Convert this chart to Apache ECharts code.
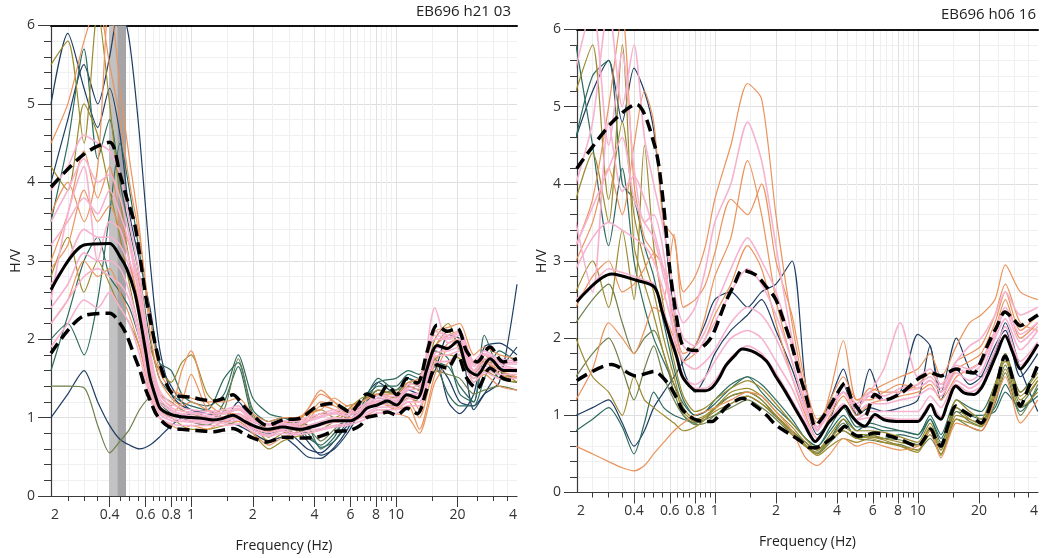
<!DOCTYPE html>
<html><head><meta charset="utf-8">
<script src="https://cdn.jsdelivr.net/npm/echarts@6/dist/echarts.min.js"></script>
<style>html,body{margin:0;padding:0;background:#fff}#c{width:1041px;height:558px}</style>
</head><body><div id="c"></div><script>
// ---------- axis ticks / labels ----------
const freqTicksMajor = [0.2, 0.4, 0.6, 0.8, 1, 2, 4, 6, 8, 10, 20, 40];
const majorTickText = ['0.2', '0.4', '0.6', '0.8', '1', '2', '4', '6', '8', '10', '20', '40'];
const freqTicksMinor = [0.25, 0.3, 0.35, 0.45, 0.5, 0.55, 0.65, 0.7, 0.75, 0.85, 0.9, 0.95, 1.5, 2.5, 3, 3.5, 4.5, 5, 5.5, 6.5, 7, 7.5, 8.5, 9, 9.5, 15, 25, 30, 35];
const edgeLabels = ['2', '4'];        // clipped "0.2" and "40"
const rangeL = [0.207, 39.0];
const rangeR = [0.2095, 39.1];
const titles = ['EB696 h21 03', 'EB696 h06 16'];
const f0BandL = [0.3975, 0.436, 0.481];

// ---------- left panel: average and +/- std curves ----------
const freqL = [0.207, 0.3, 0.4, 0.45, 0.485, 0.53, 0.563, 0.6, 0.631, 0.67, 0.705, 0.76, 0.82, 0.9, 1.0, 1.13, 1.28, 1.43, 1.6, 1.8, 2.0, 2.35, 2.8, 3.4, 4.1, 4.95, 6.0, 6.7, 7.2, 8.1, 9.1, 10.1, 11.3, 12.7, 14.2, 15.9, 17.8, 19.9, 22.2, 24.9, 28.8, 33.4, 39];
const meanL = [2.63, 3.2, 3.22, 3.05, 2.9, 2.6, 2.26, 1.85, 1.5, 1.27, 1.12, 1.06, 1.03, 1.01, 1.0, 0.99, 0.97, 0.99, 1.03, 0.96, 0.9, 0.85, 0.88, 0.85, 0.9, 0.96, 0.96, 1.03, 1.12, 1.16, 1.21, 1.16, 1.29, 1.25, 1.63, 1.92, 1.88, 1.97, 1.63, 1.54, 1.75, 1.6, 1.6];
const upperL = [3.94, 4.36, 4.51, 4.1, 3.8, 3.47, 3.05, 2.55, 2.25, 1.92, 1.68, 1.42, 1.29, 1.27, 1.26, 1.23, 1.21, 1.24, 1.29, 1.15, 1.03, 0.9, 0.97, 0.99, 1.14, 1.18, 1.07, 1.21, 1.3, 1.25, 1.41, 1.29, 1.5, 1.44, 1.84, 2.18, 2.1, 2.14, 1.84, 1.71, 1.9, 1.71, 1.75];
const lowerL = [1.82, 2.3, 2.33, 2.2, 2.05, 1.78, 1.6, 1.36, 1.22, 1.06, 0.98, 0.9, 0.86, 0.85, 0.84, 0.83, 0.82, 0.84, 0.86, 0.8, 0.74, 0.69, 0.75, 0.74, 0.75, 0.82, 0.84, 0.9, 1.0, 1.03, 1.07, 1.03, 1.12, 1.05, 1.37, 1.67, 1.63, 1.8, 1.5, 1.37, 1.63, 1.5, 1.46];

// ---------- right panel: average and +/- std curves ----------
const freqR = [0.209, 0.31, 0.41, 0.505, 0.55, 0.6, 0.65, 0.69, 0.75, 0.81, 0.9, 0.97, 1.05, 1.13, 1.25, 1.365, 1.59, 1.8, 1.99, 2.2, 2.4, 2.6, 2.79, 2.95, 3.12, 3.35, 3.62, 4.0, 4.38, 4.7, 5.09, 5.49, 6.15, 6.88, 8.3, 10.0, 10.8, 11.6, 12.3, 13.0, 14.0, 15.4, 16.9, 18.9, 20.5, 22.0, 24.5, 26.9, 29.5, 32.0, 35, 39.1];
const meanR = [2.47, 2.83, 2.75, 2.66, 2.35, 2.03, 1.75, 1.51, 1.38, 1.32, 1.32, 1.36, 1.48, 1.64, 1.77, 1.86, 1.81, 1.7, 1.51, 1.33, 1.16, 1.0, 0.86, 0.74, 0.66, 0.75, 0.9, 1.02, 1.12, 1.0, 0.9, 0.86, 1.01, 0.94, 0.92, 0.92, 1.02, 1.14, 1.0, 0.95, 1.15, 1.38, 1.29, 1.27, 1.35, 1.51, 1.8, 2.03, 1.8, 1.6, 1.72, 1.92];
const upperR = [4.2, 4.79, 5.03, 4.5, 3.9, 2.9, 2.25, 1.92, 1.85, 1.84, 1.92, 2.03, 2.25, 2.47, 2.7, 2.88, 2.82, 2.66, 2.51, 2.2, 1.9, 1.55, 1.29, 1.05, 0.86, 0.95, 1.08, 1.28, 1.42, 1.22, 1.08, 0.99, 1.27, 1.2, 1.29, 1.47, 1.52, 1.55, 1.53, 1.51, 1.55, 1.6, 1.57, 1.55, 1.7, 1.9, 2.15, 2.34, 2.25, 2.16, 2.22, 2.3];
const lowerR = [1.45, 1.66, 1.51, 1.57, 1.5, 1.38, 1.22, 1.08, 0.99, 0.94, 0.92, 0.92, 1.0, 1.1, 1.18, 1.22, 1.12, 1.0, 0.88, 0.8, 0.74, 0.68, 0.62, 0.58, 0.58, 0.61, 0.67, 0.76, 0.86, 0.78, 0.73, 0.74, 0.77, 0.75, 0.68, 0.6, 0.7, 0.82, 0.68, 0.6, 0.85, 1.12, 1.05, 0.97, 0.9, 1.02, 1.4, 1.77, 1.45, 1.12, 1.35, 1.66];

// ---------- individual time windows (shared frequency samples) ----------
const freqW = [0.207, 0.25, 0.3, 0.35, 0.4, 0.45, 0.5, 0.56, 0.63, 0.7, 0.8, 0.9, 1.0, 1.2, 1.45, 1.7, 2.0, 2.4, 2.8, 3.2, 3.7, 4.3, 5.0, 5.8, 6.8, 8.2, 10, 11.5, 13, 15.5, 18, 20.5, 24, 27, 32, 39];

// left panel windows
const wL_navy1 = [4.0, 4.8, 5.5, 5.0, 5.6, 6.3, 5.8, 4.6, 3.0, 1.9, 1.3, 1.15, 1.1, 1.0, 0.95, 1.0, 0.85, 0.8, 0.85, 0.75, 0.6, 0.55, 0.7, 0.9, 1.1, 1.25, 1.2, 1.35, 1.3, 1.7, 1.5, 1.2, 1.15, 1.3, 1.45, 2.7];
const wL_navy2 = [1.0, 1.3, 1.6, 1.2, 0.9, 0.72, 0.65, 0.6, 0.65, 0.75, 0.9, 1.0, 1.05, 1.1, 0.95, 0.9, 0.8, 0.7, 0.75, 0.65, 0.5, 0.48, 0.62, 0.85, 1.2, 1.45, 1.3, 1.5, 1.45, 1.75, 1.2, 1.05, 1.3, 1.9, 1.95, 1.8];
const wL_navy3 = [5.0, 5.9, 5.2, 4.7, 5.2, 4.6, 3.6, 3.0, 2.4, 1.7, 1.4, 1.2, 1.1, 1.05, 1.0, 1.2, 0.95, 0.9, 0.95, 0.9, 0.7, 0.52, 0.6, 0.8, 1.1, 1.35, 1.3, 1.4, 1.35, 1.6, 2.05, 2.0, 1.1, 1.3, 1.6, 1.9];
const wL_teal1 = [2.0, 2.2, 1.8, 2.5, 3.6, 4.5, 3.9, 3.1, 2.3, 1.7, 1.6, 1.3, 1.2, 1.15, 1.3, 1.8, 1.25, 1.05, 1.0, 0.95, 0.9, 0.6, 0.75, 1.05, 1.2, 1.4, 1.4, 1.55, 1.5, 1.7, 1.65, 1.4, 1.2, 1.75, 1.5, 1.45];
const wL_teal2 = [3.5, 4.5, 5.7, 4.3, 4.8, 4.0, 3.4, 2.8, 2.0, 1.5, 1.3, 1.2, 1.15, 1.1, 1.5, 1.7, 1.1, 0.95, 1.0, 0.95, 0.75, 0.65, 0.8, 1.0, 1.15, 1.5, 1.35, 1.5, 1.4, 1.65, 1.3, 1.15, 1.15, 1.5, 1.85, 1.7];
const wL_teal3 = [1.6, 2.3, 3.0, 3.3, 2.8, 2.6, 2.4, 2.0, 1.5, 1.2, 1.05, 1.0, 0.95, 0.9, 1.2, 1.65, 1.0, 0.85, 0.9, 0.85, 0.8, 0.62, 0.7, 0.95, 1.1, 1.45, 1.5, 1.6, 1.55, 1.85, 1.75, 1.3, 1.2, 2.05, 1.6, 1.5];
const wL_green1 = [1.4, 1.4, 1.38, 0.9, 0.55, 0.7, 0.85, 1.1, 1.25, 1.2, 1.1, 1.0, 0.95, 0.9, 1.1, 1.75, 1.05, 0.85, 0.9, 0.8, 0.85, 0.7, 0.85, 1.0, 1.15, 1.3, 1.35, 1.4, 1.35, 1.6, 1.55, 1.5, 1.3, 1.35, 1.4, 1.35];
const wL_olive1 = [5.5, 5.8, 4.5, 6.2, 5.0, 3.8, 3.0, 2.4, 1.9, 1.6, 1.45, 1.7, 1.8, 1.3, 1.1, 1.0, 0.9, 0.75, 0.9, 0.95, 1.05, 1.1, 1.0, 1.1, 1.25, 1.3, 1.25, 1.4, 1.35, 2.0, 2.2, 1.85, 1.6, 1.75, 1.55, 1.5];
const wL_olive2 = [2.8, 3.3, 2.6, 3.0, 2.7, 2.4, 2.2, 1.9, 1.4, 1.1, 1.0, 0.9, 0.85, 0.85, 0.9, 0.95, 0.8, 0.6, 0.7, 0.75, 0.8, 0.85, 0.95, 1.05, 1.1, 1.2, 1.15, 1.25, 1.2, 1.75, 1.8, 1.75, 1.5, 1.6, 1.5, 1.45];
const wL_olive3 = [4.2, 3.9, 5.0, 4.6, 3.9, 3.3, 2.7, 2.1, 1.6, 1.3, 1.2, 1.1, 1.05, 1.0, 1.0, 1.05, 0.9, 0.7, 0.8, 0.85, 0.95, 1.05, 1.05, 1.15, 1.2, 1.35, 1.3, 1.45, 1.4, 1.9, 2.1, 1.9, 1.55, 1.7, 1.6, 1.45];
const wL_orange1 = [3.0, 3.6, 4.4, 3.8, 4.2, 3.5, 3.2, 2.7, 1.8, 1.3, 1.15, 1.6, 1.85, 1.2, 1.05, 1.05, 0.95, 0.9, 0.95, 0.9, 1.1, 1.35, 1.2, 1.1, 1.2, 1.3, 1.2, 1.3, 1.1, 1.9, 2.05, 2.1, 1.7, 1.8, 1.55, 1.5];
const wL_orange2 = [2.2, 2.5, 3.0, 2.8, 2.9, 2.6, 2.3, 1.9, 1.3, 1.0, 0.9, 0.85, 0.9, 0.85, 0.95, 0.95, 0.8, 0.65, 0.75, 0.8, 0.95, 1.15, 1.1, 1.0, 1.0, 1.1, 1.05, 1.0, 0.8, 1.45, 1.7, 1.8, 1.45, 1.55, 1.4, 1.35];
const wL_orange3 = [3.6, 4.0, 3.5, 4.2, 6.4, 5.2, 4.3, 3.4, 2.1, 1.5, 1.25, 1.15, 1.2, 1.1, 1.05, 1.1, 1.0, 0.85, 0.95, 0.95, 1.1, 1.3, 1.2, 1.05, 1.15, 1.2, 1.1, 1.15, 0.85, 1.55, 1.9, 1.95, 1.6, 1.7, 1.6, 1.5];
const wL_orange4 = [4.5, 5.0, 5.8, 6.3, 5.5, 4.8, 4.0, 3.3, 2.3, 1.6, 1.35, 1.3, 1.25, 1.2, 1.2, 1.25, 1.05, 0.95, 1.0, 1.0, 1.05, 1.1, 1.25, 1.15, 1.2, 1.3, 1.3, 1.45, 1.5, 2.1, 2.15, 2.2, 1.8, 1.9, 1.8, 1.75];
const wL_orange5 = [2.9, 3.2, 3.9, 3.5, 3.7, 3.4, 3.0, 2.4, 1.55, 1.15, 1.05, 1.2, 1.55, 1.1, 1.0, 1.0, 0.9, 0.82, 0.88, 0.88, 1.0, 1.2, 1.15, 1.05, 1.1, 1.2, 1.12, 1.2, 1.0, 1.7, 1.95, 2.0, 1.6, 1.72, 1.6, 1.52];
const wL_pink1 = [2.7, 3.0, 3.4, 3.3, 3.3, 3.2, 2.9, 2.3, 1.5, 1.12, 1.02, 1.0, 0.98, 0.97, 0.98, 1.02, 0.9, 0.84, 0.88, 0.87, 0.88, 0.92, 0.97, 0.97, 1.06, 1.17, 1.17, 1.28, 1.3, 1.88, 1.9, 1.95, 1.58, 1.7, 1.65, 1.6];
const wL_pink2 = [3.2, 3.5, 3.8, 3.6, 3.9, 3.6, 3.2, 2.5, 1.7, 1.25, 1.1, 1.05, 1.05, 1.02, 1.05, 1.1, 0.95, 0.9, 0.92, 0.9, 0.95, 1.0, 1.05, 1.02, 1.1, 1.22, 1.22, 1.35, 1.38, 2.0, 2.0, 2.05, 1.65, 1.8, 1.7, 1.68];
const wL_pink3 = [2.2, 2.5, 2.8, 2.9, 2.8, 2.7, 2.5, 2.0, 1.35, 1.05, 0.96, 0.95, 0.94, 0.93, 0.93, 0.97, 0.85, 0.78, 0.83, 0.8, 0.83, 0.86, 0.9, 0.92, 1.0, 1.1, 1.1, 1.2, 1.2, 1.78, 1.8, 1.85, 1.5, 1.62, 1.55, 1.55];
const wL_pink4 = [2.5, 3.6, 4.2, 3.0, 3.5, 3.4, 3.0, 2.6, 1.6, 1.2, 1.08, 1.04, 1.02, 1.0, 1.01, 1.05, 0.92, 0.86, 0.9, 0.88, 0.9, 0.95, 1.0, 0.98, 1.08, 1.2, 1.2, 1.3, 1.32, 2.4, 1.95, 2.0, 1.6, 1.75, 1.68, 1.62];
const wL_pink5 = [1.9, 2.2, 2.5, 2.4, 2.6, 2.4, 2.2, 1.8, 1.25, 1.0, 0.92, 0.9, 0.9, 0.9, 0.9, 0.92, 0.82, 0.76, 0.8, 0.78, 0.8, 0.84, 0.88, 0.9, 0.96, 1.06, 1.05, 1.15, 1.15, 1.7, 1.72, 1.8, 1.45, 1.58, 1.5, 1.5];
const wL_pink6 = [3.9, 4.2, 4.6, 4.5, 4.4, 4.1, 3.5, 2.8, 1.85, 1.35, 1.18, 1.12, 1.1, 1.08, 1.1, 1.15, 0.98, 0.92, 0.96, 0.95, 1.0, 1.05, 1.1, 1.08, 1.15, 1.28, 1.27, 1.42, 1.45, 2.1, 2.05, 2.1, 1.72, 1.85, 1.75, 1.72];
const wL_pink7 = [2.4, 2.7, 3.1, 3.0, 3.0, 2.9, 2.6, 2.1, 1.4, 1.08, 0.99, 0.97, 0.96, 0.95, 0.96, 0.99, 0.87, 0.81, 0.85, 0.84, 0.86, 0.9, 0.94, 0.95, 1.03, 1.13, 1.14, 1.24, 1.25, 1.82, 1.85, 1.9, 1.54, 1.66, 1.6, 1.58];
const wL_pink8 = [3.5, 3.9, 4.3, 4.0, 4.1, 3.8, 3.3, 2.6, 1.75, 1.3, 1.13, 1.08, 1.07, 1.05, 1.07, 1.12, 0.96, 0.9, 0.93, 0.92, 0.97, 1.02, 1.07, 1.05, 1.12, 1.25, 1.24, 1.38, 1.42, 2.05, 2.02, 2.08, 1.68, 1.82, 1.72, 1.7];

// right panel windows
const wR_navy1 = [1.0, 1.1, 1.2, 0.9, 0.6, 0.8, 1.1, 1.3, 1.5, 1.7, 1.9, 2.2, 2.5, 2.6, 2.4, 2.6, 2.7, 3.0, 1.4, 0.8, 1.2, 1.6, 1.0, 1.6, 1.2, 1.3, 2.05, 1.9, 1.3, 2.0, 1.6, 1.5, 1.8, 2.2, 1.6, 1.05];
const wR_navy2 = [4.6, 5.2, 5.6, 4.8, 5.5, 5.2, 4.7, 3.5, 2.3, 1.6, 1.3, 1.5, 1.8, 2.1, 2.3, 2.5, 2.1, 1.6, 1.1, 0.75, 0.95, 1.4, 1.0, 1.1, 1.05, 1.1, 1.2, 1.9, 1.2, 1.6, 1.4, 1.5, 1.9, 2.1, 1.5, 1.8];
const wR_teal1 = [5.8, 4.5, 3.2, 4.2, 3.0, 2.4, 2.0, 1.7, 1.4, 1.15, 1.0, 1.05, 1.2, 1.4, 1.5, 1.3, 1.1, 0.9, 0.7, 0.6, 0.8, 1.0, 0.8, 0.9, 0.85, 0.8, 0.75, 0.95, 0.7, 1.1, 1.0, 1.0, 1.05, 1.3, 1.1, 1.25];
const wR_teal2 = [0.8, 0.95, 1.1, 0.85, 0.5, 0.9, 1.3, 1.1, 1.0, 0.95, 0.9, 0.95, 1.1, 1.25, 1.3, 1.2, 1.0, 0.8, 0.65, 0.55, 0.7, 0.95, 0.7, 0.75, 0.7, 0.75, 0.7, 0.95, 0.65, 1.05, 1.0, 0.95, 1.1, 1.4, 1.05, 1.35];
const wR_teal3 = [4.6, 5.4, 5.6, 4.0, 3.8, 3.2, 2.8, 2.2, 1.6, 1.2, 1.0, 1.05, 1.15, 1.35, 1.5, 1.4, 1.2, 0.95, 0.7, 0.6, 0.85, 1.1, 0.85, 0.85, 0.8, 0.8, 0.75, 1.0, 0.75, 1.2, 1.1, 1.05, 1.4, 1.8, 1.3, 1.6];
const wR_green1 = [1.5, 1.8, 2.0, 1.6, 1.2, 1.6, 1.9, 1.5, 1.2, 1.0, 0.9, 0.95, 1.0, 1.1, 1.2, 1.1, 0.95, 0.75, 0.6, 0.5, 0.65, 0.8, 0.7, 0.68, 0.65, 0.62, 0.55, 0.7, 0.5, 0.95, 0.85, 0.8, 1.15, 1.55, 1.0, 1.4];
const wR_green2 = [2.2, 2.5, 2.7, 2.2, 1.8, 2.0, 2.1, 1.8, 1.3, 1.0, 0.88, 0.9, 1.0, 1.15, 1.25, 1.15, 0.98, 0.78, 0.6, 0.52, 0.7, 0.9, 0.72, 0.72, 0.7, 0.68, 0.62, 0.82, 0.55, 1.05, 0.92, 0.86, 1.25, 1.65, 1.15, 1.45];
const wR_olive1 = [2.0, 1.5, 1.3, 1.0, 1.5, 1.2, 1.1, 1.0, 0.9, 0.8, 0.85, 0.95, 1.05, 1.15, 1.25, 1.15, 1.0, 0.75, 0.6, 0.48, 0.6, 0.7, 0.65, 0.7, 0.65, 0.6, 0.55, 0.75, 0.5, 0.95, 0.9, 0.85, 1.2, 1.6, 1.1, 1.3];
const wR_olive2 = [5.2, 5.8, 3.8, 4.8, 3.6, 3.0, 2.6, 2.0, 1.5, 1.1, 0.95, 1.0, 1.1, 1.3, 1.35, 1.25, 1.05, 0.85, 0.65, 0.55, 0.7, 0.85, 0.75, 0.75, 0.7, 0.65, 0.6, 0.85, 0.55, 1.1, 0.95, 0.9, 1.35, 1.8, 1.25, 1.5];
const wR_olive3 = [2.6, 3.0, 2.4, 3.4, 2.5, 4.5, 3.2, 2.4, 1.7, 1.25, 1.05, 1.1, 1.2, 1.35, 1.45, 1.35, 1.15, 0.9, 0.7, 0.55, 0.75, 0.95, 0.8, 0.8, 0.78, 0.72, 0.65, 0.9, 0.6, 1.2, 1.05, 0.95, 1.4, 1.7, 1.3, 1.55];
const wR_olive4 = [3.8, 4.4, 3.5, 5.8, 3.2, 2.7, 2.3, 1.8, 1.4, 1.05, 0.92, 0.98, 1.08, 1.25, 1.3, 1.2, 1.0, 0.8, 0.62, 0.5, 0.68, 0.8, 0.7, 0.72, 0.68, 0.6, 0.52, 0.8, 0.48, 1.0, 0.95, 0.88, 1.3, 1.75, 1.2, 1.45];
const wR_orange1 = [3.0, 3.5, 4.2, 3.6, 4.5, 5.2, 4.8, 3.5, 3.3, 2.6, 2.8, 3.2, 3.8, 4.5, 5.3, 5.1, 3.6, 2.2, 1.3, 0.9, 1.2, 1.5, 1.2, 1.3, 1.4, 1.5, 1.6, 1.8, 1.5, 1.9, 2.2, 2.3, 2.5, 2.95, 2.6, 2.5];
const wR_orange2 = [0.6, 0.5, 0.4, 0.32, 0.28, 0.35, 0.5, 0.65, 0.8, 0.9, 1.0, 1.05, 1.1, 1.2, 1.3, 1.25, 1.05, 0.8, 0.45, 0.35, 0.5, 0.7, 0.6, 0.65, 0.6, 0.55, 0.6, 0.8, 0.45, 0.9, 0.85, 0.8, 1.2, 1.5, 0.9, 1.2];
const wR_orange3 = [2.4, 2.8, 3.0, 2.6, 2.7, 2.9, 3.1, 2.9, 2.2, 1.8, 1.9, 2.3, 2.8, 3.3, 4.3, 3.6, 2.5, 1.7, 1.15, 0.8, 1.3, 1.97, 1.2, 1.2, 1.3, 1.4, 1.35, 1.45, 1.3, 1.6, 1.7, 1.8, 2.2, 2.6, 2.1, 2.3];
const wR_orange4 = [3.2, 3.8, 5.0, 6.2, 4.0, 3.3, 3.1, 2.5, 3.35, 2.4, 2.5, 2.7, 3.1, 3.8, 3.6, 4.0, 3.0, 2.3, 1.4, 0.95, 1.1, 1.3, 1.15, 1.35, 1.3, 1.3, 1.4, 1.55, 1.4, 1.7, 1.8, 1.9, 2.3, 2.7, 2.2, 2.1];
const wR_orange5 = [1.2, 1.6, 2.2, 2.0, 1.8, 2.1, 2.4, 2.3, 2.0, 1.7, 1.8, 2.0, 2.3, 2.7, 3.2, 2.9, 2.2, 1.5, 1.0, 0.7, 1.0, 1.25, 1.0, 1.15, 1.2, 1.25, 1.3, 1.4, 1.2, 1.5, 1.6, 1.7, 2.1, 2.5, 2.0, 2.2];
const wR_pink1 = [4.0, 4.8, 6.3, 5.0, 5.8, 4.6, 4.0, 3.4, 2.6, 2.2, 2.4, 2.9, 3.5, 4.0, 4.8, 4.3, 3.2, 2.0, 1.3, 0.85, 1.1, 1.3, 1.1, 1.3, 1.6, 2.2, 1.5, 1.6, 1.4, 1.7, 1.9, 2.0, 2.3, 2.6, 2.3, 2.4];
const wR_pink2 = [2.9, 3.3, 3.5, 3.4, 3.3, 3.2, 3.0, 2.6, 2.1, 1.7, 1.6, 1.7, 1.85, 2.2, 2.4, 2.3, 2.0, 1.5, 1.05, 0.8, 1.1, 1.3, 1.05, 1.15, 1.15, 1.2, 1.25, 1.35, 1.25, 1.55, 1.45, 1.55, 2.0, 2.25, 1.85, 2.1];
const wR_pink3 = [3.5, 2.6, 4.8, 3.9, 4.1, 3.8, 3.4, 2.9, 2.4, 2.0, 1.9, 2.1, 2.4, 2.9, 3.3, 3.0, 2.6, 1.9, 1.2, 0.85, 1.1, 1.4, 1.15, 1.3, 1.25, 1.35, 1.4, 1.5, 1.35, 1.65, 1.6, 1.7, 2.1, 2.4, 2.05, 2.2];
const wR_pink4 = [5.5, 6.3, 4.5, 5.7, 4.2, 3.5, 3.6, 3.1, 2.0, 1.5, 1.4, 1.5, 1.7, 2.0, 2.1, 2.0, 1.7, 1.35, 0.95, 0.7, 0.95, 1.15, 0.95, 1.05, 1.05, 1.05, 1.05, 1.25, 1.1, 1.45, 1.35, 1.45, 1.85, 2.15, 1.7, 1.95];
const wR_pink5 = [2.5, 2.7, 2.9, 2.85, 2.8, 2.75, 2.7, 2.35, 1.9, 1.5, 1.35, 1.35, 1.45, 1.75, 1.9, 1.8, 1.55, 1.2, 0.9, 0.7, 0.95, 1.12, 0.94, 0.97, 0.97, 0.95, 0.95, 1.15, 0.98, 1.4, 1.3, 1.38, 1.78, 2.05, 1.65, 1.92];
const wR_pink6 = [3.2, 3.7, 4.2, 4.6, 3.8, 3.5, 3.3, 2.8, 2.3, 1.9, 1.8, 2.0, 2.2, 2.6, 2.9, 2.7, 2.3, 1.7, 1.1, 0.82, 1.05, 1.3, 1.1, 1.25, 1.2, 1.3, 1.35, 1.45, 1.3, 1.6, 1.55, 1.65, 2.05, 2.35, 1.95, 2.15];

const windowColors = { navy: '#1e3d62', teal: '#2e6b5f', green: '#6d7f4b', olive: '#9c8b2e', orange: '#ea935d', pink: '#f6b2cf' };
const windowsL = [
  [wL_navy1, 'navy'], [wL_navy2, 'navy'], [wL_navy3, 'navy'], [wL_teal1, 'teal'], [wL_teal2, 'teal'], [wL_teal3, 'teal'],
  [wL_green1, 'green'], [wL_olive1, 'olive'], [wL_olive2, 'olive'], [wL_olive3, 'olive'],
  [wL_orange1, 'orange'], [wL_orange2, 'orange'], [wL_orange3, 'orange'], [wL_orange4, 'orange'], [wL_orange5, 'orange'],
  [wL_pink1, 'pink'], [wL_pink2, 'pink'], [wL_pink3, 'pink'], [wL_pink4, 'pink'], [wL_pink5, 'pink'], [wL_pink6, 'pink'], [wL_pink7, 'pink'], [wL_pink8, 'pink']
];
const windowsR = [
  [wR_navy1, 'navy'], [wR_navy2, 'navy'], [wR_teal1, 'teal'], [wR_teal2, 'teal'], [wR_teal3, 'teal'],
  [wR_green1, 'green'], [wR_green2, 'green'], [wR_olive1, 'olive'], [wR_olive2, 'olive'], [wR_olive3, 'olive'], [wR_olive4, 'olive'],
  [wR_orange1, 'orange'], [wR_orange2, 'orange'], [wR_orange3, 'orange'], [wR_orange4, 'orange'], [wR_orange5, 'orange'],
  [wR_pink1, 'pink'], [wR_pink2, 'pink'], [wR_pink3, 'pink'], [wR_pink4, 'pink'], [wR_pink5, 'pink'], [wR_pink6, 'pink']
];

// ---------- build chart ----------
const FONT = "'Segoe UI', 'Open Sans', 'Noto Sans', sans-serif";
const lg = Math.log10;

function fmtFor(range) {
  const lo = lg(range[0]), hi = lg(range[1]);
  return function (v) {
    if (Math.abs(v - lo) < 1e-6) return edgeLabels[0];
    if (Math.abs(v - hi) < 1e-6) return edgeLabels[1];
    const f = Math.pow(10, v);
    const i = freqTicksMajor.findIndex(m => Math.abs(m - f) / m < 1e-3);
    return i >= 0 ? majorTickText[i] : '';
  };
}

function xAxesFor(gi, range) {
  const lo = lg(range[0]), hi = lg(range[1]);
  const inR = f => f >= range[0] && f <= range[1];
  const all = freqTicksMinor.concat(freqTicksMajor).filter(inR).map(lg);
  const maj = freqTicksMajor.filter(inR).map(lg);
  const labVals = [lo].concat(maj, [hi]);
  return [
    { gridIndex: gi, type: 'value', min: lo, max: hi, position: 'bottom',
      axisLine: { show: true, onZero: false, lineStyle: { color: '#3a3a3a', width: 1.2 } },
      axisTick: { show: true, customValues: all, length: 5, lineStyle: { color: '#3a3a3a' } },
      axisLabel: { show: true, customValues: labVals, formatter: fmtFor(range), alignMinLabel: 'left', alignMaxLabel: 'right',
                   margin: 12, fontSize: 14, color: '#333', fontFamily: FONT },
      splitLine: { show: true, lineStyle: { color: '#efefef', width: 1 } },
      name: 'Frequency (Hz)', nameLocation: 'middle', nameGap: 43,
      nameTextStyle: { fontSize: 14, color: '#222', fontFamily: FONT } },
    { gridIndex: gi, type: 'value', min: lo, max: hi, position: 'bottom',
      axisLine: { show: false, onZero: false },
      axisTick: { show: true, customValues: maj, length: 11, lineStyle: { color: '#3a3a3a' } },
      axisLabel: { show: false },
      splitLine: { show: true, lineStyle: { color: '#e1e1e1', width: 1 } } },
    { gridIndex: gi, type: 'value', min: lo, max: hi, position: 'top',
      axisLine: { show: true, onZero: false, lineStyle: { color: '#111', width: 2 } },
      axisTick: { show: false }, axisLabel: { show: false }, splitLine: { show: false } }
  ];
}

function yAxisFor(gi) {
  return { gridIndex: gi, type: 'value', min: 0, max: 6, interval: 1, position: 'left',
    axisLine: { show: true, onZero: false, lineStyle: { color: '#3a3a3a', width: 1.2 } },
    axisTick: { show: true, length: 13, lineStyle: { color: '#3a3a3a' } },
    minorTick: { show: true, splitNumber: 5, length: 7, lineStyle: { color: '#3a3a3a' } },
    axisLabel: { margin: 16, fontSize: 14, color: '#333', fontFamily: FONT },
    splitLine: { show: true, lineStyle: { color: '#dedede' } },
    minorSplitLine: { show: true, lineStyle: { color: '#f0f0f0' } },
    name: 'H/V', nameLocation: 'middle', nameGap: 25,
    nameTextStyle: { fontSize: 14, color: '#222', fontFamily: FONT } };
}

function line(xi, yi, freqs, vals, color, width, type, z, smooth) {
  return { type: 'line', xAxisIndex: xi, yAxisIndex: yi, silent: true, animation: false,
    data: freqs.map((f, i) => [lg(f), vals[i]]), symbol: 'none', showSymbol: false,
    smooth: smooth, clip: true, z: z,
    lineStyle: { color: color, width: width, type: type } };
}

const series = [];
// f0 band (left panel)
series.push({ type: 'line', xAxisIndex: 0, yAxisIndex: 0, silent: true, animation: false, z: 1,
  data: [[lg(f0BandL[0]), 0]], symbol: 'none', lineStyle: { opacity: 0 },
  markArea: { silent: true, label: { show: false },
    data: [
      [{ xAxis: lg(f0BandL[0]), itemStyle: { color: '#c2c2c2' } }, { xAxis: lg(f0BandL[1]) }],
      [{ xAxis: lg(f0BandL[1]), itemStyle: { color: '#a5a5a8' } }, { xAxis: lg(f0BandL[2]) }]
    ] } });
windowsL.forEach(w => series.push(line(0, 0, freqW, w[0], windowColors[w[1]], w[1] === 'pink' ? 1.6 : 1.2, 'solid', 2, 0.25)));
windowsR.forEach(w => series.push(line(3, 1, freqW, w[0], windowColors[w[1]], w[1] === 'pink' ? 1.6 : 1.2, 'solid', 2, 0.25)));
const dash = [12, 6];
series.push(line(0, 0, freqL, upperL, '#000', 3.5, dash, 3, 0.3));
series.push(line(0, 0, freqL, lowerL, '#000', 3.5, dash, 3, 0.3));
series.push(line(0, 0, freqL, meanL, '#000', 3, 'solid', 4, 0.3));
series.push(line(3, 1, freqR, upperR, '#000', 3.5, dash, 3, 0.3));
series.push(line(3, 1, freqR, lowerR, '#000', 3.5, dash, 3, 0.3));
series.push(line(3, 1, freqR, meanR, '#000', 3, 'solid', 4, 0.3));

const option = {
  animation: false,
  backgroundColor: '#fff',
  textStyle: { fontFamily: FONT },
  title: [
    { text: titles[0], right: 530, top: 4, padding: 0, textStyle: { fontSize: 15, fontWeight: 'normal', color: '#222', fontFamily: FONT } },
    { text: titles[1], right: 5, top: 7, padding: 0, textStyle: { fontSize: 15, fontWeight: 'normal', color: '#222', fontFamily: FONT } }
  ],
  grid: [
    { left: 51, top: 25.5, width: 466, height: 472 },
    { left: 577, top: 29.5, width: 464, height: 463 }
  ],
  xAxis: xAxesFor(0, rangeL).concat(xAxesFor(1, rangeR)),
  yAxis: [yAxisFor(0), yAxisFor(1)],
  series: series
};
const chart = echarts.init(document.getElementById('c'), null, { renderer: 'canvas' });
chart.setOption(option);
</script></body></html>
